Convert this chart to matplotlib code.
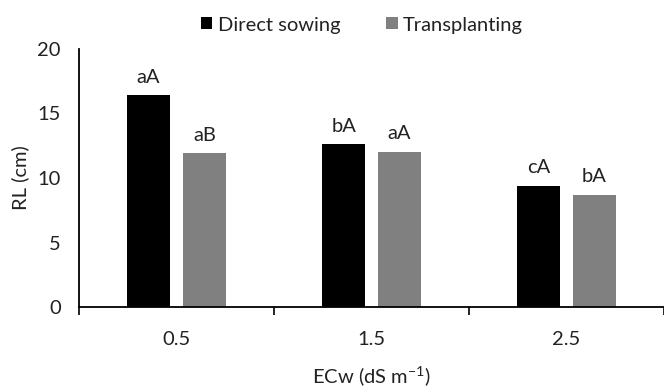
import matplotlib
matplotlib.use("Agg")
import matplotlib.pyplot as plt
import numpy as np

categories = ["0.5", "1.5", "2.5"]
direct_sowing = [16.4, 12.6, 9.4]
transplanting = [11.9, 12.0, 8.7]
ds_letters = ["aA", "bA", "cA"]
tp_letters = ["aB", "aA", "bA"]
series_names = ["Direct sowing", "Transplanting"]

plt.rcParams['font.family'] = ['Lato', 'DejaVu Sans']

FS = 14.5
TC = "#222222"

fig = plt.figure(figsize=(6.64, 3.89), dpi=100)
ax = fig.add_axes([79/664, 1-307/389, 1-79/664, (307-49)/389])

x = np.arange(len(categories))
w = 0.223
off = 0.143
c_ds = "#000000"
c_tp = "#808080"
b1 = ax.bar(x - off, direct_sowing, w, color=c_ds, label=series_names[0])
b2 = ax.bar(x + off, transplanting, w, color=c_tp, label=series_names[1])

for xs, vals, labs in ((x - off, direct_sowing, ds_letters), (x + off, transplanting, tp_letters)):
    for xi, v, t in zip(xs, vals, labs):
        ax.annotate(t, (xi, v), xytext=(0, 7), textcoords="offset points",
                    ha="center", va="bottom", fontsize=FS, color=TC)

ax.set_ylim(0, 20)
ax.set_xlim(-0.5, 2.467)
ax.set_yticks([0, 5, 10, 15, 20])
ax.set_xticks(x)
ax.set_xticklabels(categories)
ax.set_xticks([-0.5, 0.5, 1.5, 2.5], minor=True)
ax.tick_params(axis="x", which="major", length=0, pad=17, labelsize=FS, labelcolor=TC)
ax.tick_params(axis="x", which="minor", length=6, width=1.2, direction="out", color="black")
ax.tick_params(axis="y", length=0, pad=13, labelsize=FS, labelcolor=TC)

for s in ["top", "right"]:
    ax.spines[s].set_visible(False)
ax.spines["left"].set_linewidth(1.3)
ax.spines["bottom"].set_linewidth(1.3)

ax.set_ylabel("RL (cm)", fontsize=FS, color=TC, labelpad=6)
ax.set_xlabel(r"ECw (dS m$^{\mathregular{-1}}$)", fontsize=FS, color=TC, labelpad=12)

leg = fig.legend(handles=[b1, b2], loc="center", bbox_to_anchor=(362/664, 1-25/389),
                 ncol=2, frameon=False, fontsize=FS, handlelength=0.55, handleheight=0.55,
                 handletextpad=0.25, columnspacing=2.3)
for t in leg.get_texts():
    t.set_color(TC)

fig.savefig("out.png", dpi=100)
